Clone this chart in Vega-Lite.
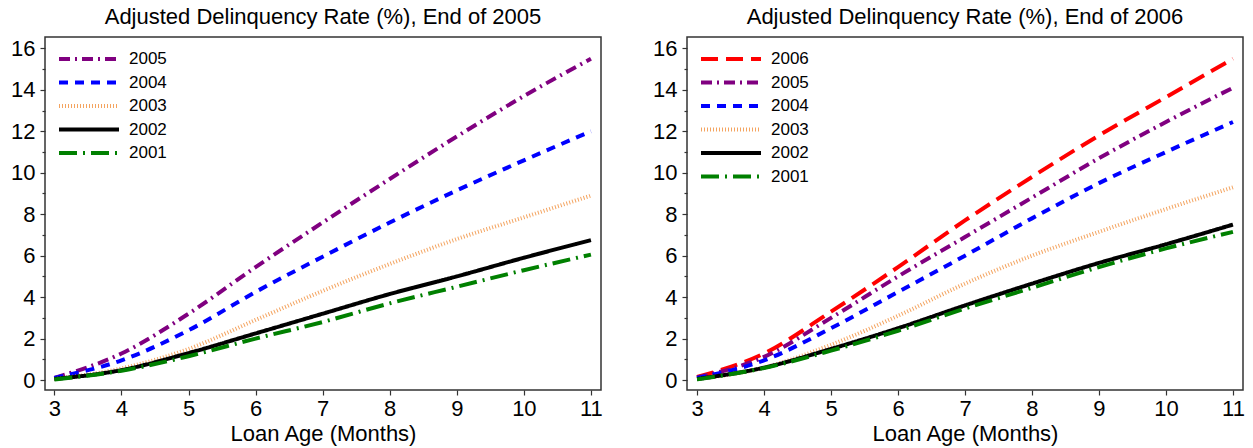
{
  "$schema": "https://vega.github.io/schema/vega-lite/v6.json",
  "autosize": {"type": "pad"},
  "padding": {"left": 9, "top": 5, "right": 5, "bottom": 2},
  "bounds": "flush",
  "spacing": 86,
  "config": {
    "font": "Liberation Sans",
    "view": {"stroke": "#333", "strokeWidth": 1.5},
    "axis": {"domain": false, "grid": false, "labelFont": "Liberation Sans", "labelFontSize": 22, "labelColor": "#000", "tickColor": "#333", "tickWidth": 1.2, "titleFont": "Liberation Sans", "titleFontSize": 22, "titleFontWeight": "normal", "titleColor": "#000"},
    "title": {"font": "Liberation Sans", "fontSize": 22, "fontWeight": "normal", "color": "#000", "anchor": "middle", "offset": 8},
    "legend": {"labelFont": "Liberation Sans", "labelFontSize": 17, "labelColor": "#000", "symbolType": "stroke", "symbolSize": 3600, "clipHeight": 16, "rowPadding": 6.5, "labelOffset": 8, "title": null, "orient": "none", "legendX": 12, "legendY": 14, "padding": 0}
  },
  "data": {"values": [
    {"panel": "A", "series": "2005", "month": 3, "rate": 0.1},
    {"panel": "A", "series": "2005", "month": 4, "rate": 1.28},
    {"panel": "A", "series": "2005", "month": 5, "rate": 3.2},
    {"panel": "A", "series": "2005", "month": 6, "rate": 5.45},
    {"panel": "A", "series": "2005", "month": 7, "rate": 7.6},
    {"panel": "A", "series": "2005", "month": 8, "rate": 9.7},
    {"panel": "A", "series": "2005", "month": 9, "rate": 11.75},
    {"panel": "A", "series": "2005", "month": 10, "rate": 13.7},
    {"panel": "A", "series": "2005", "month": 11, "rate": 15.5},
    {"panel": "A", "series": "2004", "month": 3, "rate": 0.1},
    {"panel": "A", "series": "2004", "month": 4, "rate": 0.95},
    {"panel": "A", "series": "2004", "month": 5, "rate": 2.4},
    {"panel": "A", "series": "2004", "month": 6, "rate": 4.25},
    {"panel": "A", "series": "2004", "month": 7, "rate": 5.95},
    {"panel": "A", "series": "2004", "month": 8, "rate": 7.6},
    {"panel": "A", "series": "2004", "month": 9, "rate": 9.15},
    {"panel": "A", "series": "2004", "month": 10, "rate": 10.6},
    {"panel": "A", "series": "2004", "month": 11, "rate": 12.0},
    {"panel": "A", "series": "2003", "month": 3, "rate": 0.05},
    {"panel": "A", "series": "2003", "month": 4, "rate": 0.56},
    {"panel": "A", "series": "2003", "month": 5, "rate": 1.5},
    {"panel": "A", "series": "2003", "month": 6, "rate": 2.9},
    {"panel": "A", "series": "2003", "month": 7, "rate": 4.3},
    {"panel": "A", "series": "2003", "month": 8, "rate": 5.6},
    {"panel": "A", "series": "2003", "month": 9, "rate": 6.8},
    {"panel": "A", "series": "2003", "month": 10, "rate": 7.85},
    {"panel": "A", "series": "2003", "month": 11, "rate": 8.9},
    {"panel": "A", "series": "2002", "month": 3, "rate": 0.05},
    {"panel": "A", "series": "2002", "month": 4, "rate": 0.48},
    {"panel": "A", "series": "2002", "month": 5, "rate": 1.3},
    {"panel": "A", "series": "2002", "month": 6, "rate": 2.25},
    {"panel": "A", "series": "2002", "month": 7, "rate": 3.2},
    {"panel": "A", "series": "2002", "month": 8, "rate": 4.15},
    {"panel": "A", "series": "2002", "month": 9, "rate": 5.0},
    {"panel": "A", "series": "2002", "month": 10, "rate": 5.9},
    {"panel": "A", "series": "2002", "month": 11, "rate": 6.75},
    {"panel": "A", "series": "2001", "month": 3, "rate": 0.03},
    {"panel": "A", "series": "2001", "month": 4, "rate": 0.45},
    {"panel": "A", "series": "2001", "month": 5, "rate": 1.15},
    {"panel": "A", "series": "2001", "month": 6, "rate": 2.0},
    {"panel": "A", "series": "2001", "month": 7, "rate": 2.8},
    {"panel": "A", "series": "2001", "month": 8, "rate": 3.7},
    {"panel": "A", "series": "2001", "month": 9, "rate": 4.5},
    {"panel": "A", "series": "2001", "month": 10, "rate": 5.3},
    {"panel": "A", "series": "2001", "month": 11, "rate": 6.05},
    {"panel": "B", "series": "2006", "month": 3, "rate": 0.15},
    {"panel": "B", "series": "2006", "month": 4, "rate": 1.28},
    {"panel": "B", "series": "2006", "month": 5, "rate": 3.3},
    {"panel": "B", "series": "2006", "month": 6, "rate": 5.45},
    {"panel": "B", "series": "2006", "month": 7, "rate": 7.7},
    {"panel": "B", "series": "2006", "month": 8, "rate": 9.8},
    {"panel": "B", "series": "2006", "month": 9, "rate": 11.8},
    {"panel": "B", "series": "2006", "month": 10, "rate": 13.65},
    {"panel": "B", "series": "2006", "month": 11, "rate": 15.5},
    {"panel": "B", "series": "2005", "month": 3, "rate": 0.12},
    {"panel": "B", "series": "2005", "month": 4, "rate": 1.12},
    {"panel": "B", "series": "2005", "month": 5, "rate": 3.0},
    {"panel": "B", "series": "2005", "month": 6, "rate": 5.0},
    {"panel": "B", "series": "2005", "month": 7, "rate": 6.9},
    {"panel": "B", "series": "2005", "month": 8, "rate": 8.8},
    {"panel": "B", "series": "2005", "month": 9, "rate": 10.7},
    {"panel": "B", "series": "2005", "month": 10, "rate": 12.45},
    {"panel": "B", "series": "2005", "month": 11, "rate": 14.1},
    {"panel": "B", "series": "2004", "month": 3, "rate": 0.1},
    {"panel": "B", "series": "2004", "month": 4, "rate": 0.95},
    {"panel": "B", "series": "2004", "month": 5, "rate": 2.5},
    {"panel": "B", "series": "2004", "month": 6, "rate": 4.25},
    {"panel": "B", "series": "2004", "month": 7, "rate": 6.0},
    {"panel": "B", "series": "2004", "month": 8, "rate": 7.8},
    {"panel": "B", "series": "2004", "month": 9, "rate": 9.5},
    {"panel": "B", "series": "2004", "month": 10, "rate": 11.0},
    {"panel": "B", "series": "2004", "month": 11, "rate": 12.45},
    {"panel": "B", "series": "2003", "month": 3, "rate": 0.05},
    {"panel": "B", "series": "2003", "month": 4, "rate": 0.6},
    {"panel": "B", "series": "2003", "month": 5, "rate": 1.7},
    {"panel": "B", "series": "2003", "month": 6, "rate": 3.1},
    {"panel": "B", "series": "2003", "month": 7, "rate": 4.65},
    {"panel": "B", "series": "2003", "month": 8, "rate": 6.0},
    {"panel": "B", "series": "2003", "month": 9, "rate": 7.15},
    {"panel": "B", "series": "2003", "month": 10, "rate": 8.25},
    {"panel": "B", "series": "2003", "month": 11, "rate": 9.3},
    {"panel": "B", "series": "2002", "month": 3, "rate": 0.05},
    {"panel": "B", "series": "2002", "month": 4, "rate": 0.6},
    {"panel": "B", "series": "2002", "month": 5, "rate": 1.5},
    {"panel": "B", "series": "2002", "month": 6, "rate": 2.5},
    {"panel": "B", "series": "2002", "month": 7, "rate": 3.6},
    {"panel": "B", "series": "2002", "month": 8, "rate": 4.65},
    {"panel": "B", "series": "2002", "month": 9, "rate": 5.65},
    {"panel": "B", "series": "2002", "month": 10, "rate": 6.55},
    {"panel": "B", "series": "2002", "month": 11, "rate": 7.5},
    {"panel": "B", "series": "2001", "month": 3, "rate": 0.03},
    {"panel": "B", "series": "2001", "month": 4, "rate": 0.58},
    {"panel": "B", "series": "2001", "month": 5, "rate": 1.42},
    {"panel": "B", "series": "2001", "month": 6, "rate": 2.38},
    {"panel": "B", "series": "2001", "month": 7, "rate": 3.45},
    {"panel": "B", "series": "2001", "month": 8, "rate": 4.45},
    {"panel": "B", "series": "2001", "month": 9, "rate": 5.45},
    {"panel": "B", "series": "2001", "month": 10, "rate": 6.35},
    {"panel": "B", "series": "2001", "month": 11, "rate": 7.15}
  ]},
  "hconcat": [
    {
      "title": "Adjusted Delinquency Rate (%), End of 2005",
      "width": 556,
      "height": 353,
      "transform": [{"filter": "datum.panel === 'A'"}],
      "mark": {"type": "line", "interpolate": "monotone", "strokeCap": "butt"},
      "encoding": {
        "x": {"field": "month", "type": "quantitative", "scale": {"domain": [2.86, 11.15], "nice": false, "zero": false}, "axis": {"values": [3, 4, 5, 6, 7, 8, 9, 10, 11], "tickSize": 5, "labelPadding": 3, "title": "Loan Age (Months)", "titlePadding": 4, "labelFlush": false}},
        "y": {"field": "rate", "type": "quantitative", "scale": {"domain": [-0.48, 16.55], "nice": false, "zero": false}, "axis": {"values": [0, 1, 2, 3, 4, 5, 6, 7, 8, 9, 10, 11, 12, 13, 14, 15, 16], "labelExpr": "datum.value % 2 ? '' : datum.label", "tickSize": {"condition": {"test": "datum.value % 2", "value": 3}, "value": 5}, "labelPadding": 5, "title": null}},
        "color": {"field": "series", "type": "nominal", "scale": {"domain": ["2005", "2004", "2003", "2002", "2001"], "range": ["#800080", "#0000ff", "#f4a460", "#000000", "#008000"]}},
        "strokeDash": {"field": "series", "type": "nominal", "scale": {"domain": ["2005", "2004", "2003", "2002", "2001"], "range": [[11, 5, 2, 5], [9, 7], [1, 2], [1, 0], [18, 6, 2, 6]]}},
        "strokeWidth": {"field": "series", "type": "nominal", "scale": {"domain": ["2005", "2004", "2003", "2002", "2001"], "range": [4, 4, 2, 4, 4]}}
      }
    },
    {
      "title": "Adjusted Delinquency Rate (%), End of 2006",
      "width": 556,
      "height": 353,
      "transform": [{"filter": "datum.panel === 'B'"}],
      "mark": {"type": "line", "interpolate": "monotone", "strokeCap": "butt"},
      "encoding": {
        "x": {"field": "month", "type": "quantitative", "scale": {"domain": [2.85, 11.15], "nice": false, "zero": false}, "axis": {"values": [3, 4, 5, 6, 7, 8, 9, 10, 11], "tickSize": 5, "labelPadding": 3, "title": "Loan Age (Months)", "titlePadding": 4, "labelFlush": false}},
        "y": {"field": "rate", "type": "quantitative", "scale": {"domain": [-0.48, 16.55], "nice": false, "zero": false}, "axis": {"values": [0, 1, 2, 3, 4, 5, 6, 7, 8, 9, 10, 11, 12, 13, 14, 15, 16], "labelExpr": "datum.value % 2 ? '' : datum.label", "tickSize": {"condition": {"test": "datum.value % 2", "value": 3}, "value": 5}, "labelPadding": 5, "title": null}},
        "color": {"field": "series", "type": "nominal", "scale": {"domain": ["2006", "2005", "2004", "2003", "2002", "2001"], "range": ["#ff0000", "#800080", "#0000ff", "#f4a460", "#000000", "#008000"]}},
        "strokeDash": {"field": "series", "type": "nominal", "scale": {"domain": ["2006", "2005", "2004", "2003", "2002", "2001"], "range": [[17, 8], [11, 5, 2, 5], [9, 7], [1, 2], [1, 0], [18, 6, 2, 6]]}},
        "strokeWidth": {"field": "series", "type": "nominal", "scale": {"domain": ["2006", "2005", "2004", "2003", "2002", "2001"], "range": [4, 4, 4, 2, 4, 4]}}
      }
    }
  ],
  "resolve": {"scale": {"color": "independent", "strokeDash": "independent", "strokeWidth": "independent", "x": "independent", "y": "independent"}, "legend": {"color": "independent", "strokeDash": "independent", "strokeWidth": "independent"}}
}
